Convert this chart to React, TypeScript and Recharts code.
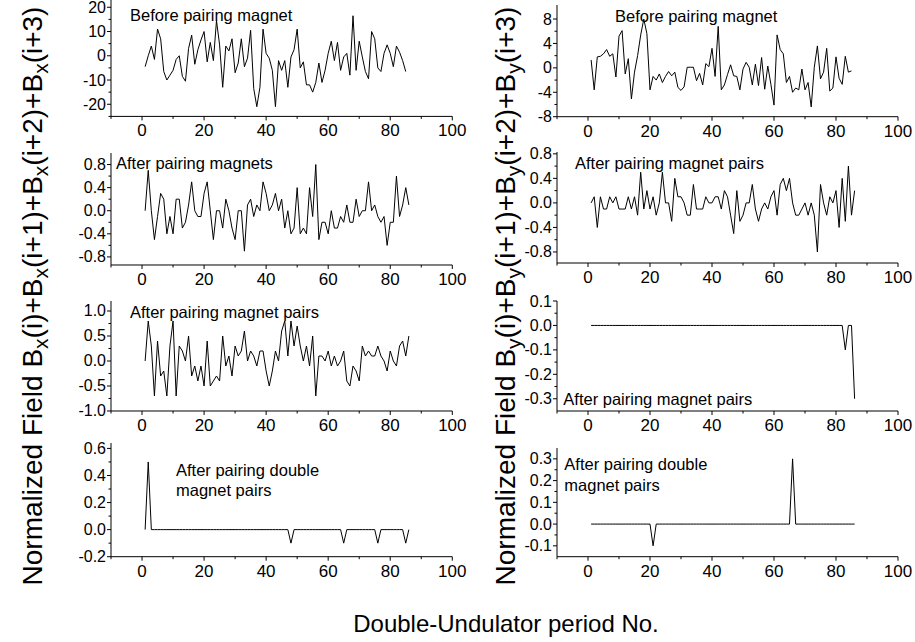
import { LineChart, Line, XAxis, YAxis } from "recharts";

const FONT = '"Liberation Sans", Arial, sans-serif';

// period axis: ticks every 10, labels every 20
const X_TICKS = [-10, 0, 10, 20, 30, 40, 50, 60, 70, 80, 90, 100];
const X_LABELED = [0, 20, 40, 60, 80, 100];

// horizontal field sums, Bx
const BX_BEFORE = [
  -4.5, 0, 4, -1.5, 11, 7, -6.5, -10, -8, -6,
  -1.5, 0, -8.5, -10.5, 3, 8.5, -3.5, 2.5, 6.5, 10,
  -2.5, 5.5, -2, 14.5, 4.5, -13, 4, 2, 7, -7,
  -3, 7, -4.5, -1, 10.5, -13.5, -21, -13, 11, 1,
  -1, -6, -21, -2, -6, -2, -13, -0.5, 2.5, 11,
  -5, -2.5, -12, -12, -15, -11, -3, -11, -6, 1,
  6, -2, 5.5, -6, -0.5, 1, -8, 16.5, -6, 6,
  -0.5, -6.5, -9.5, 10, 7, -5, -6.5, 1, 4.5, 1,
  -4.5, 4, 1.5, -2, -6.5,
];
const BX_MAGNETS = [
  0, 0.7, 0, -0.5, -0.1, 0.3, 0.2, -0.4, -0.1, -0.4,
  0.2, 0.2, -0.3, -0.2, 0.1, 0.5, 0, -0.1, -0.1, 0.3,
  0.5, 0, -0.5, 0, 0, -0.3, 0.2, 0, -0.3, -0.5,
  0, 0, -0.7, 0.1, 0.2, -0.1, 0.1, 0, 0.5, 0.3,
  0, 0.1, 0.3, 0, 0.2, -0.3, 0, -0.4, -0.3, 0.4,
  -0.4, -0.3, -0.4, 0.4, -0.1, 0.8, -0.5, -0.2, -0.2, -0.4,
  0, -0.3, -0.3, -0.1, -0.2, 0.1, -0.2, -0.2, 0.2, -0.1,
  0, 0, 0.5, 0, 0.1, -0.1, -0.2, -0.1, -0.6, -0.2,
  -0.2, 0.6, -0.1, 0.1, 0.4, 0.1,
];
const BX_PAIRS = [
  0, 0.8, 0.3, -0.7, 0.4, -0.3, -0.2, -0.7, 0.3, 0.8,
  -0.7, 0.3, 0.2, 0, 0.5, -0.3, -0.1, -0.4, -0.1, -0.5,
  0.4, -0.5, -0.4, -0.3, -0.4, 0.5, -0.1, 0.1, -0.3, 0.3,
  0.1, 0.2, 0.6, 0, 0.2, 0.1, -0.1, 0.2, 0.2, -0.2,
  -0.5, -0.2, 0.2, 0, 0.6, 0.8, 0.1, 0.8, 0.3, 0.7,
  0.3, 0, 0.3, -0.1, 0.5, -0.7, 0.1, 0.1, 0, 0.2,
  -0.1, 0.1, -0.1, 0, 0.2, -0.4, -0.5, -0.1, -0.2, -0.4,
  0.3, 0.1, 0.2, 0.1, 0.1, 0.3, 0.1, 0, -0.2, 0.2,
  0, -0.1, 0.3, 0.4, 0.1, 0.5,
];
const BX_DOUBLE = [
  0, 0.5, 0, 0, 0, 0, 0, 0, 0, 0,
  0, 0, 0, 0, 0, 0, 0, 0, 0, 0,
  0, 0, 0, 0, 0, 0, 0, 0, 0, 0,
  0, 0, 0, 0, 0, 0, 0, 0, 0, 0,
  0, 0, 0, 0, 0, 0, 0, -0.1, 0, 0,
  0, 0, 0, 0, 0, 0, 0, 0, 0, 0,
  0, 0, 0, 0, -0.1, 0, 0, 0, 0, 0,
  0, 0, 0, 0, 0, -0.1, 0, 0, 0, 0,
  0, 0, 0, 0, -0.1, 0,
];

// vertical field sums, By
const BY_BEFORE = [
  1.3, -3.6, 1.8, 1.9, 2.3, 3, 1.9, 2.3, -1.5, 5.2,
  6.1, -1, 1.5, -5.1, -0.7, 2, 5.4, 8, 5.6, -3.6,
  -1.4, -2, -1, -2.4, -1.4, -0.6, -1.3, -0.7, -3.2, -3.7,
  -3.1, 0.1, 0.1, 0.1, -2.1, -0.9, -2.8, 0.7, 0.2, 3.2,
  -1.4, 6.8, -3.6, -2.8, -1.1, 0.5, -1.3, -1.4, -3.6, -0.2,
  0.9, 0.1, -2.8, 0.6, -2.9, 1.7, -3.5, 0.3, -2.7, -6.1,
  5.4, 3, 2.3, -2.4, -1.4, -4, -3.3, -3.6, -0.2, -3.6,
  -2.4, -6.4, 0.1, 3.6, -1.8, -0.7, 3.2, -3.8, -3.3, 1.8,
  -1.7, -2.7, 1.9, -0.7, -0.5,
];
const BY_MAGNETS = [
  0, 0.1, -0.4, 0.1, -0.1, -0.1, 0.1, 0, 0.1, -0.1,
  -0.1, -0.1, 0.1, -0.1, 0.1, -0.2, 0.5, -0.1, 0.2, -0.1,
  0.1, -0.2, 0, 0.5, 0, 0, -0.3, 0.4, 0.1, 0.1,
  0, -0.2, -0.2, 0.3, -0.1, -0.1, -0.1, 0.1, 0, 0,
  0.1, 0.1, -0.1, 0.2, 0.1, -0.2, -0.5, 0.2, -0.3, -0.2,
  0, 0, 0.3, -0.1, -0.3, -0.1, 0, -0.1, 0.1, 0.2,
  -0.2, 0.3, 0.4, 0.2, 0.4, 0, -0.2, -0.2, -0.1, 0,
  -0.2, 0, -0.2, -0.8, 0.3, 0, -0.2, 0.1, 0, 0.2,
  -0.4, 0.4, -0.3, 0.6, -0.2, 0.2,
];
const BY_PAIRS = [
  0, 0, 0, 0, 0, 0, 0, 0, 0, 0,
  0, 0, 0, 0, 0, 0, 0, 0, 0, 0,
  0, 0, 0, 0, 0, 0, 0, 0, 0, 0,
  0, 0, 0, 0, 0, 0, 0, 0, 0, 0,
  0, 0, 0, 0, 0, 0, 0, 0, 0, 0,
  0, 0, 0, 0, 0, 0, 0, 0, 0, 0,
  0, 0, 0, 0, 0, 0, 0, 0, 0, 0,
  0, 0, 0, 0, 0, 0, 0, 0, 0, 0,
  0, 0, -0.1, 0, 0, -0.3,
];
const BY_DOUBLE = [
  0, 0, 0, 0, 0, 0, 0, 0, 0, 0,
  0, 0, 0, 0, 0, 0, 0, 0, 0, 0,
  -0.1, 0, 0, 0, 0, 0, 0, 0, 0, 0,
  0, 0, 0, 0, 0, 0, 0, 0, 0, 0,
  0, 0, 0, 0, 0, 0, 0, 0, 0, 0,
  0, 0, 0, 0, 0, 0, 0, 0, 0, 0,
  0, 0, 0, 0, 0, 0.3, 0, 0, 0, 0,
  0, 0, 0, 0, 0, 0, 0, 0, 0, 0,
  0, 0, 0, 0, 0, 0,
];

type Box = { left: number; top: number; right: number; bottom: number };
type PanelSpec = {
  values: number[];
  box: Box;
  domain: [number, number];
  major: number[];
  minor: number[];
  digits: number;
  notes: { x: number; y: number; text: string }[];
};

const PANELS: PanelSpec[] = [
  {
    values: BX_BEFORE,
    box: { left: 110.7, top: -0.3, right: 452, bottom: 116.1 },
    domain: [-25, 23],
    major: [-20, -10, 0, 10, 20],
    minor: [-25, -15, -5, 5, 15],
    digits: 0,
    notes: [{ x: 130, y: 20.7, text: "Before pairing magnet" }],
  },
  {
    values: BX_MAGNETS,
    box: { left: 110.7, top: 153, right: 452, bottom: 265 },
    domain: [-0.94, 1.0],
    major: [-0.8, -0.4, 0, 0.4, 0.8],
    minor: [-0.6, -0.2, 0.2, 0.6],
    digits: 1,
    notes: [{ x: 116, y: 169.3, text: "After pairing magnets" }],
  },
  {
    values: BX_PAIRS,
    box: { left: 110.7, top: 300.7, right: 452, bottom: 410.7 },
    domain: [-1.0, 1.2],
    major: [-1.0, -0.5, 0, 0.5, 1.0],
    minor: [-0.75, -0.25, 0.25, 0.75],
    digits: 1,
    notes: [{ x: 130, y: 318.3, text: "After pairing magnet pairs" }],
  },
  {
    values: BX_DOUBLE,
    box: { left: 110.7, top: 443, right: 452, bottom: 556.7 },
    domain: [-0.2, 0.64],
    major: [-0.2, 0, 0.2, 0.4, 0.6],
    minor: [-0.1, 0.1, 0.3, 0.5],
    digits: 1,
    notes: [
      { x: 176, y: 476, text: "After pairing double" },
      { x: 176, y: 496, text: "magnet pairs" },
    ],
  },
  {
    values: BY_BEFORE,
    box: { left: 557, top: 5, right: 898, bottom: 116.7 },
    domain: [-8, 10.3],
    major: [-8, -4, 0, 4, 8],
    minor: [-6, -2, 2, 6],
    digits: 0,
    notes: [{ x: 615, y: 21.7, text: "Before pairing magnet" }],
  },
  {
    values: BY_MAGNETS,
    box: { left: 557, top: 151.7, right: 898, bottom: 262.7 },
    domain: [-0.98, 0.83],
    major: [-0.8, -0.4, 0, 0.4, 0.8],
    minor: [-0.6, -0.2, 0.2, 0.6],
    digits: 1,
    notes: [{ x: 575, y: 169.3, text: "After pairing magnet pairs" }],
  },
  {
    values: BY_PAIRS,
    box: { left: 557, top: 300.7, right: 898, bottom: 410.7 },
    domain: [-0.35, 0.1],
    major: [-0.3, -0.2, -0.1, 0, 0.1],
    minor: [-0.25, -0.15, -0.05, 0.05],
    digits: 1,
    notes: [{ x: 563.3, y: 405, text: "After pairing magnet pairs" }],
  },
  {
    values: BY_DOUBLE,
    box: { left: 557, top: 448, right: 898, bottom: 556.7 },
    domain: [-0.15, 0.35],
    major: [-0.1, 0, 0.1, 0.2, 0.3],
    minor: [-0.05, 0.05, 0.15, 0.25],
    digits: 1,
    notes: [
      { x: 564.3, y: 470, text: "After pairing double" },
      { x: 564.3, y: 490.5, text: "magnet pairs" },
    ],
  },
];

const YW = 50;
const MT = 12;
const MR = 24;
const XH = 30;

function XTick(props: any) {
  const { x, y, payload } = props;
  const major = X_LABELED.includes(payload.value);
  return (
    <g>
      <line x1={x} x2={x} y1={y} y2={y + (major ? 4 : 2.5)} stroke="#000" strokeWidth={1} />
      {major && (
        <text x={x} y={y + 20} textAnchor="middle" fontSize={17} fontFamily={FONT} fill="#000">
          {payload.value}
        </text>
      )}
    </g>
  );
}

function makeYTick(major: number[], digits: number) {
  return function YTick(props: any) {
    const { x, y, payload } = props;
    const v = payload.value as number;
    const isMajor = major.some((m) => Math.abs(m - v) < 1e-9);
    return (
      <g>
        <line x1={x - (isMajor ? 4 : 2.5)} x2={x} y1={y} y2={y} stroke="#000" strokeWidth={1} />
        {isMajor && (
          <text x={x - 5} y={y + 5.5} textAnchor="end" fontSize={16} fontFamily={FONT} fill="#000">
            {v.toFixed(digits)}
          </text>
        )}
      </g>
    );
  };
}

function Panel({ spec }: { spec: PanelSpec }) {
  const { box } = spec;
  const w = box.right - box.left;
  const h = box.bottom - box.top;
  const rows = spec.values.map((v, k) => ({ period: k + 1, v }));
  const yTicks = [...spec.major, ...spec.minor]
    .filter((t) => t >= spec.domain[0] - 1e-9 && t <= spec.domain[1] + 1e-9)
    .sort((a, b) => a - b);
  return (
    <div style={{ position: "absolute", left: box.left - YW, top: box.top - MT }}>
      <LineChart
        width={YW + w + MR}
        height={MT + h + XH}
        data={rows}
        margin={{ top: MT, right: MR, left: 0, bottom: 0 }}
      >
        <XAxis
          type="number"
          dataKey="period"
          domain={[-10, 100]}
          ticks={X_TICKS}
          interval={0}
          height={XH}
          tickSize={0}
          tickMargin={0}
          tickLine={false}
          tick={XTick}
          axisLine={{ stroke: "#000", strokeWidth: 1 }}
          allowDataOverflow
        />
        <YAxis
          type="number"
          domain={spec.domain}
          ticks={yTicks}
          interval={0}
          width={YW}
          tickSize={0}
          tickMargin={0}
          tickLine={false}
          tick={makeYTick(spec.major, spec.digits)}
          axisLine={{ stroke: "#000", strokeWidth: 1 }}
          allowDataOverflow
        />
        <Line
          type="linear"
          dataKey="v"
          stroke="#000"
          strokeWidth={1}
          dot={false}
          activeDot={false}
          isAnimationActive={false}
        />
      </LineChart>
    </div>
  );
}

function FieldTitle({ x, axis }: { x: number; axis: string }) {
  const sub = (
    <tspan fontSize={21} dy={6}>
      {axis}
    </tspan>
  );
  return (
    <text
      transform={`translate(${x}, 296) rotate(-90)`}
      textAnchor="middle"
      fontSize={28}
      fontFamily={FONT}
      fill="#000"
    >
      Normalized Field B{sub}
      <tspan dy={-6}>(i)+B</tspan>
      {sub}
      <tspan dy={-6}>(i+1)+B</tspan>
      {sub}
      <tspan dy={-6}>(i+2)+B</tspan>
      {sub}
      <tspan dy={-6}>(i+3)</tspan>
    </text>
  );
}

export default function App() {
  return (
    <div style={{ position: "absolute", left: 0, top: 0, width: 915, height: 642, background: "#fff", overflow: "hidden" }}>
      {PANELS.map((p, k) => (
        <Panel key={k} spec={p} />
      ))}
      <svg width={915} height={642} style={{ position: "absolute", left: 0, top: 0, pointerEvents: "none" }}>
        {PANELS.flatMap((p) => p.notes).map((n, k) => (
          <text key={k} x={n.x} y={n.y} fontSize={16.5} fontFamily={FONT} fill="#000">
            {n.text}
          </text>
        ))}
        <FieldTitle x={42} axis="x" />
        <FieldTitle x={515} axis="y" />
        <text x={506} y={632} textAnchor="middle" fontSize={24} fontFamily={FONT} fill="#000">
          Double-Undulator period No.
        </text>
      </svg>
    </div>
  );
}
